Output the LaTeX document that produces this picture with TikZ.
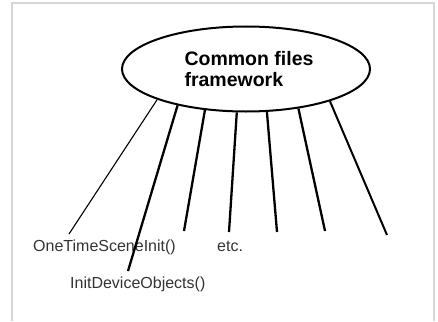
\documentclass[tikz,border=0pt]{standalone}
\usepackage{fontspec}
\setmainfont{Liberation Sans}
\usetikzlibrary{shapes.geometric}
\definecolor{framegray}{RGB}{214,214,214}
\tikzset{
  spoke/.style={line width=2.3pt},
  thinspoke/.style={line width=1.1pt},
  fnlabel/.style={anchor=west, inner sep=0pt, font=\fontsize{16}{18}\selectfont, text=black!80}
}

\begin{document}
\begin{tikzpicture}[x=1pt, y=-1pt]
                \useasboundingbox (0,0) rectangle (438,321);
                \draw[framegray, line width=2.5pt] (12,321) -- (12,3) -- (434,3) -- (434,321);

                \node (cf) at (246,69) [ellipse, draw, line width=2pt, minimum width=248pt, minimum height=85pt, inner sep=0pt, align=left, font=\fontsize{19.5}{21}\selectfont\bfseries] {\hspace*{6pt}Common files\\\hspace*{6pt}framework};

                \node (ots) at (33,247) [fnlabel] {OneTimeSceneInit()};
                \node (etc) at (217,246) [fnlabel] {etc.};
                \node (ido) at (70,284) [fnlabel] {InitDeviceObjects()};

                \coordinate (e1) at (69,234);
                \coordinate (e2) at (128,271);
                \coordinate (e3) at (184,231);
                \coordinate (e4) at (229,232);
                \coordinate (e5) at (277,232);
                \coordinate (e6) at (325,231);
                \coordinate (e7) at (387,235);

                \draw[thinspoke] (cf.199) -- (e1);
                \draw[spoke] (cf.208) -- (e2);
                \draw[spoke] (cf.225) -- (e3);
                \draw[spoke] (cf.258) -- (e4);
                \draw[spoke] (cf.296) -- (e5);
                \draw[spoke] (cf.323) -- (e6);
                \draw[spoke, line width=2pt] (cf.339) -- (e7);
            \end{tikzpicture}
\end{document}
